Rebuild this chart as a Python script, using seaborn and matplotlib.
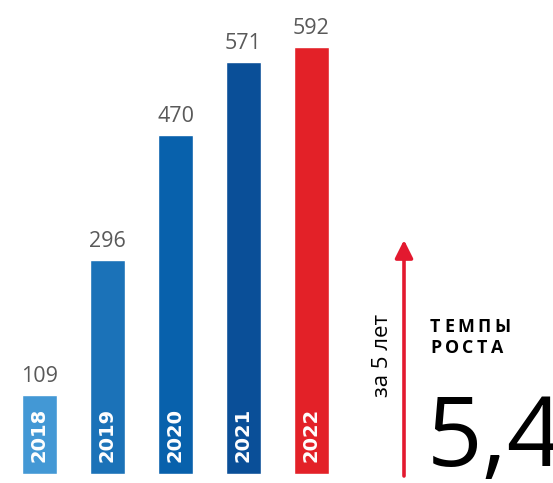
import matplotlib
matplotlib.use("Agg")
import matplotlib.pyplot as plt
import seaborn as sns

# chart data
years = ["2018", "2019", "2020", "2021", "2022"]
values = [109, 296, 470, 571, 592]
bar_colors = ["#4398d5", "#1b72b8", "#0861ac", "#0a4f98", "#e32128"]

W, H = 553, 483
PX_PER_UNIT = 0.7215  # vertical scale

sns.set_theme(style="white")
plt.rcParams["font.family"] = ["Open Sans", "DejaVu Sans"]

fig = plt.figure(figsize=(W / 100, H / 100), dpi=100)
fig.patch.set_facecolor("white")

# axes: bar baseline 9 px above bottom, spanning full width
ax = fig.add_axes([0, 9 / H, 1, (H - 9) / H])
sns.barplot(x=years, y=values, hue=years, palette=bar_colors, width=0.51,
            saturation=1, legend=False, ax=ax)
ax.set_xlim(-39.5 / 68, (W - 39.5) / 68)
ax.set_ylim(0, (H - 9) / PX_PER_UNIT)
ax.axis("off")

# value labels above bars
for i, v in enumerate(values):
    ax.annotate(str(v), xy=(i, v), xytext=(0, 9.4), textcoords="offset points",
                ha="center", va="baseline", fontsize=15.5, color="#595959")

# year labels inside bars
for i, y in enumerate(years):
    ax.text(i, 12 / PX_PER_UNIT, y, rotation=90, rotation_mode="anchor",
            ha="left", va="center", color="white", fontweight="bold",
            fontsize=14, family="DejaVu Sans")

# red growth arrow
ax.annotate("", xy=(404, H - 240), xytext=(404, H - 476),
            xycoords="figure pixels", textcoords="figure pixels",
            arrowprops=dict(arrowstyle="-|>,head_length=0.6,head_width=0.3",
                            color="#e3192f", lw=2.6, mutation_scale=18,
                            shrinkA=0, shrinkB=0))

fig.text(382 / W, 1 - 355 / H, "за 5 лет", rotation=90, ha="center",
         va="center", fontsize=16, color="black")


def tracked(text, x, y, spacing, **kw):
    # draw letters one by one with extra spacing (in pixels)
    renderer = fig.canvas.get_renderer()
    for ch in text:
        t = fig.text(x / W, y / H, ch, ha="left", va="baseline", **kw)
        bb = t.get_window_extent(renderer)
        x = bb.x1 + spacing


tracked("ТЕМПЫ", 430, H - 332, 3.5, fontsize=12.8, fontweight="bold", color="black")
tracked("РОСТА", 430, H - 353, 3.5, fontsize=12.8, fontweight="bold", color="black")

# big growth figure, runs off the right edge like the original
fig.text(427 / W, 1 - 466 / H, "5,4", ha="left", va="baseline",
         fontsize=70, color="black")

fig.savefig("out.png", dpi=100)
